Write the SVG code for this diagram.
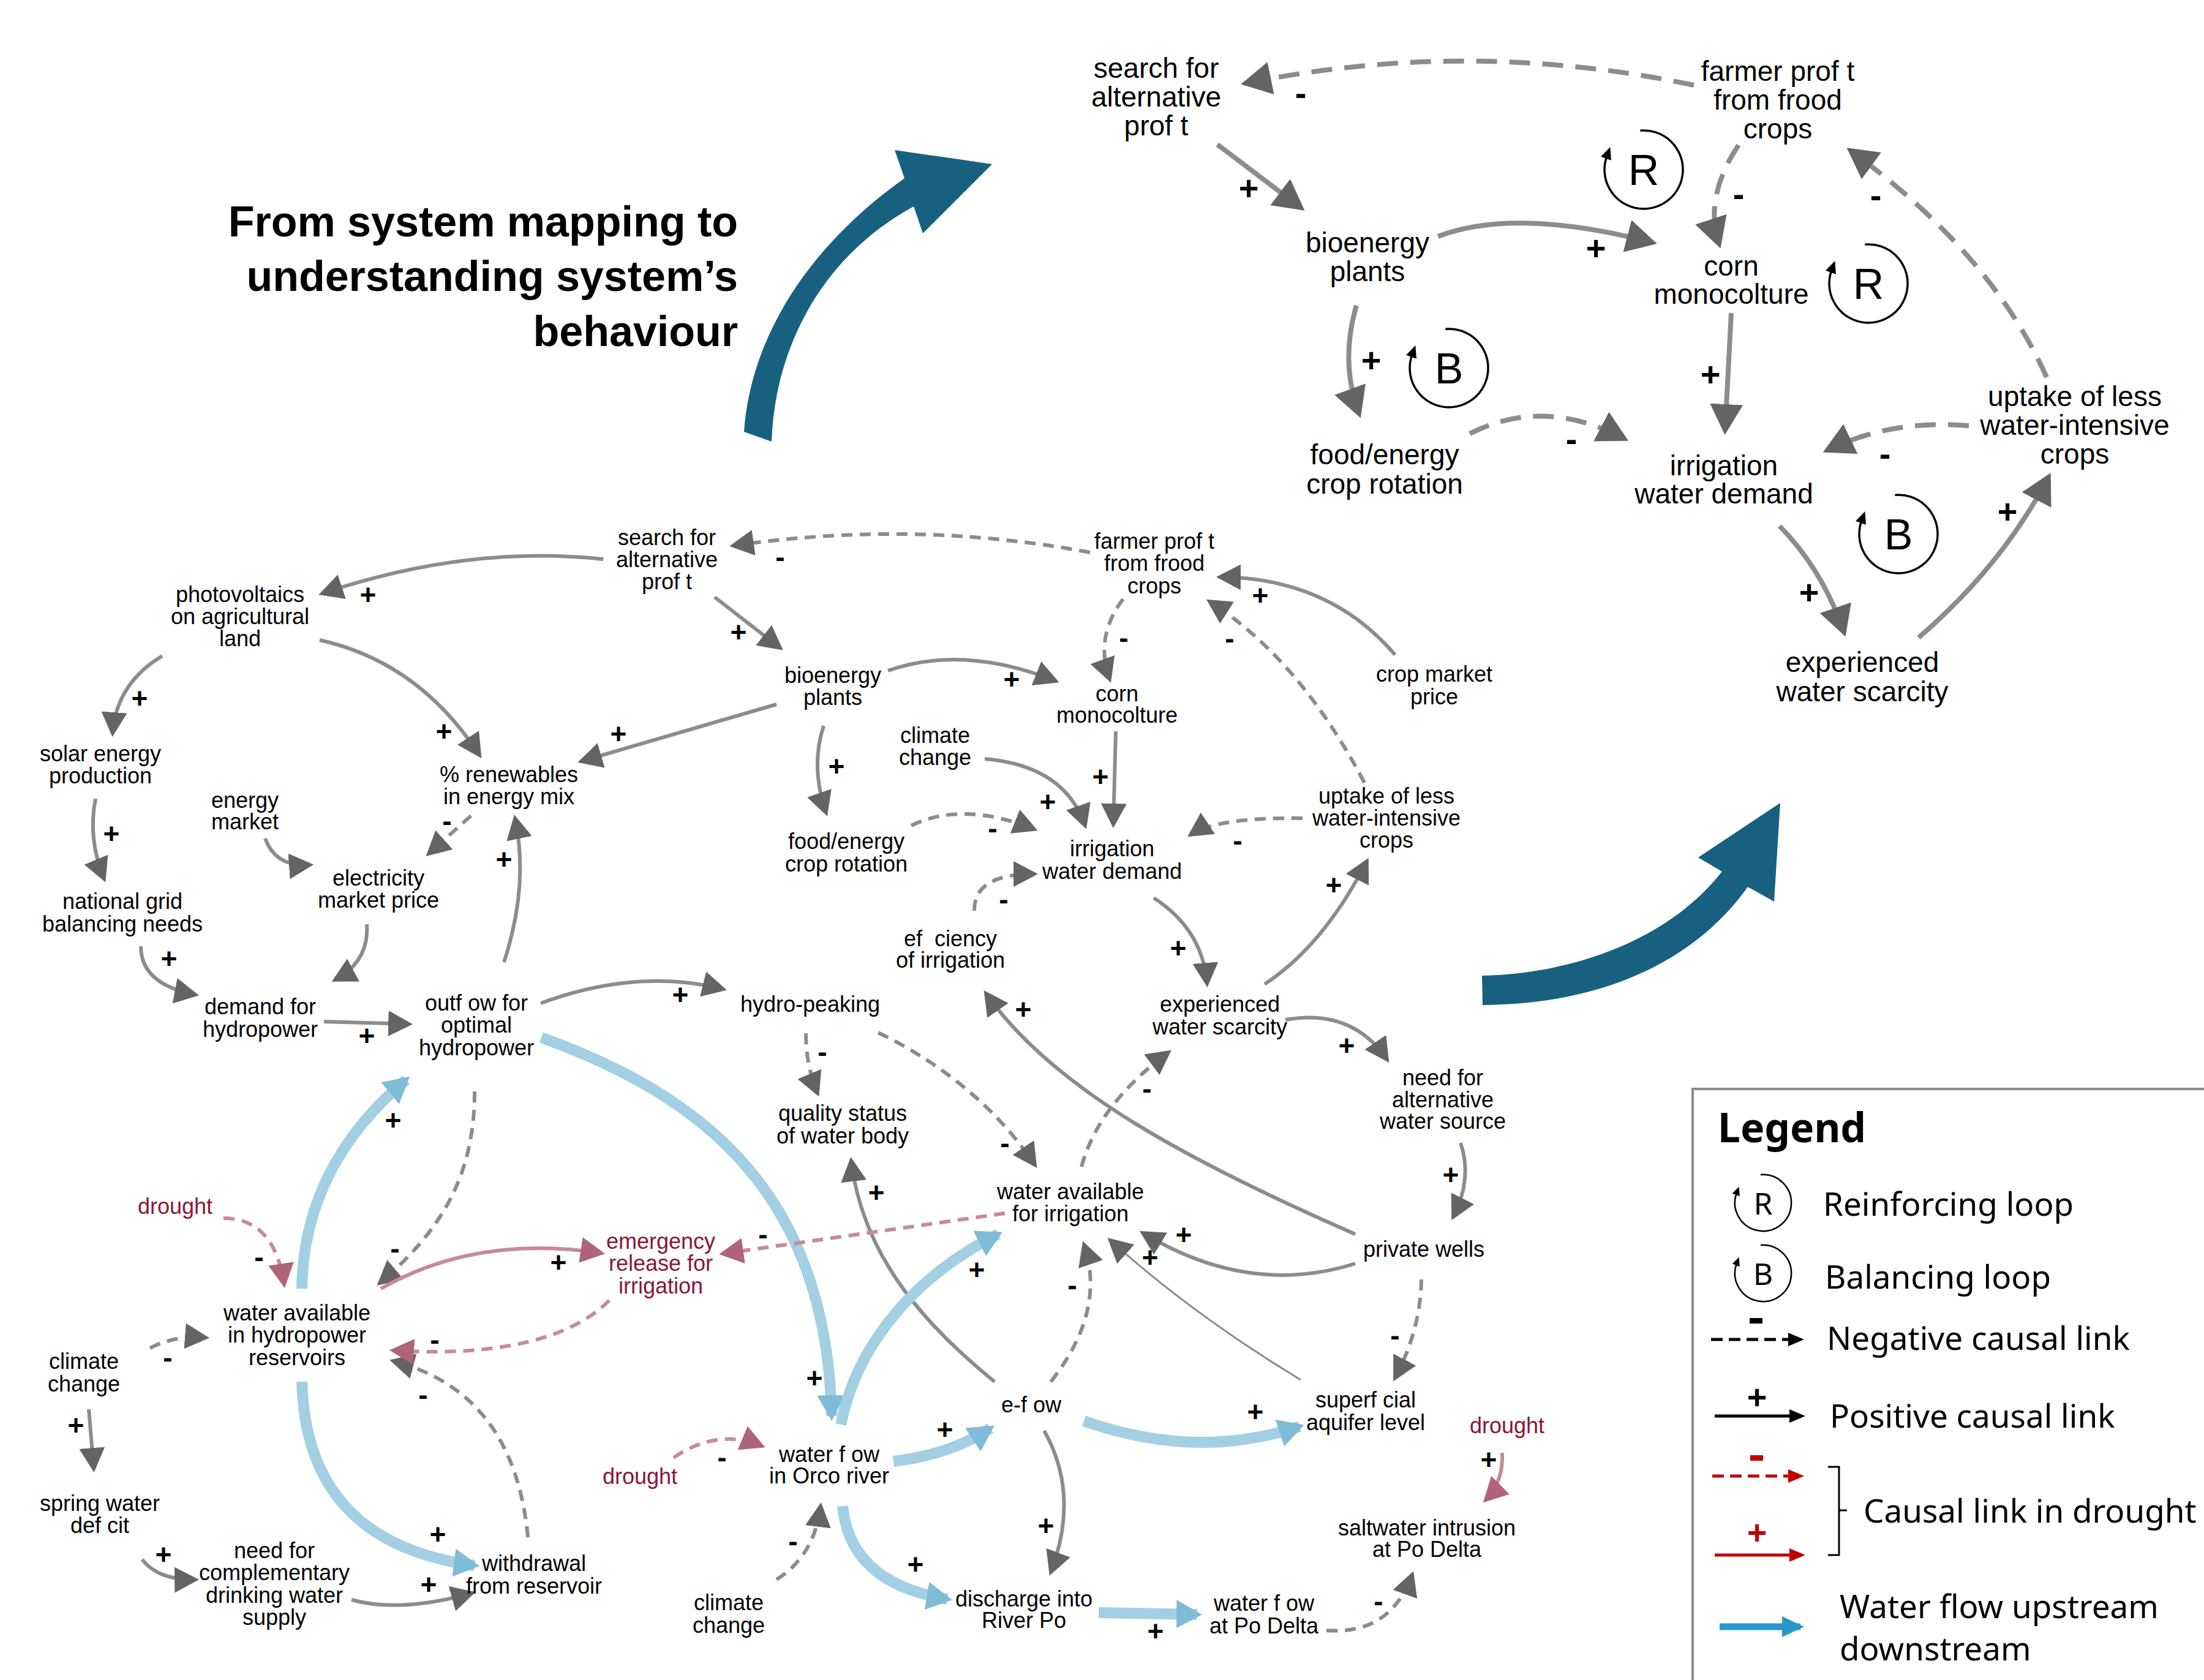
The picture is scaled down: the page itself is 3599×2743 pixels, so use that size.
<svg xmlns="http://www.w3.org/2000/svg" width="3599" height="2743" viewBox="0 0 3599 2743">
<style>
.n{font-family:"Liberation Sans",Arial,sans-serif;font-size:36px;fill:#000;text-anchor:middle}
.nb{font-size:46px}
.red{fill:#8a1538}
.l{font-family:"Liberation Sans",Arial,sans-serif;font-weight:bold;font-size:46px;text-anchor:middle;dominant-baseline:central;fill:#000}
.lb{font-size:56px}
.g{fill:none;stroke:#8c8c8c;stroke-width:6;marker-end:url(#aG)}
.gd{stroke-dasharray:18 12}
.thin{stroke-width:3}
.t{fill:none;stroke:#8c8c8c;stroke-width:8;marker-end:url(#aT)}
.td{stroke-dasharray:34 20}
.p{fill:none;stroke:#c68a9c;stroke-width:6;marker-end:url(#aP)}
.b{fill:none;stroke:#a3cfe3;stroke-width:18;marker-end:url(#aB)}
.big{fill:#18607f}
.lg{font-family:"Noto Sans","Open Sans",sans-serif;font-size:53px;fill:#000}
.loop{fill:none;stroke:#000;stroke-width:3.5;marker-end:url(#aK)}
.lt{font-family:"Liberation Sans",Arial,sans-serif;font-size:70px;text-anchor:middle;fill:#000}
</style>
<defs>
<marker id="aG" markerUnits="userSpaceOnUse" markerWidth="40" markerHeight="42" viewBox="0 0 40 42" refX="34" refY="21" orient="auto"><path d="M0,0 L40,21 L0,42 z" fill="#646464"/></marker>
<marker id="aT" markerUnits="userSpaceOnUse" markerWidth="50" markerHeight="54" viewBox="0 0 50 54" refX="42" refY="27" orient="auto"><path d="M0,0 L50,27 L0,54 z" fill="#646464"/></marker>
<marker id="aP" markerUnits="userSpaceOnUse" markerWidth="40" markerHeight="42" viewBox="0 0 40 42" refX="34" refY="21" orient="auto"><path d="M0,0 L40,21 L0,42 z" fill="#b0647a"/></marker>
<marker id="aB" markerUnits="userSpaceOnUse" markerWidth="42" markerHeight="46" viewBox="0 0 42 46" refX="34" refY="23" orient="auto"><path d="M0,0 L42,23 L0,46 z" fill="#80bbd8"/></marker>
<marker id="aK" markerUnits="userSpaceOnUse" markerWidth="20" markerHeight="18" viewBox="0 0 20 18" refX="4" refY="9" orient="auto"><path d="M0,0 L20,9 L0,18 z" fill="#000"/></marker>
<marker id="kB" markerUnits="userSpaceOnUse" markerWidth="26" markerHeight="22" viewBox="0 0 26 22" refX="20" refY="11" orient="auto"><path d="M0,0 L26,11 L0,22 z" fill="#000"/></marker>
<marker id="kR" markerUnits="userSpaceOnUse" markerWidth="26" markerHeight="22" viewBox="0 0 26 22" refX="20" refY="11" orient="auto"><path d="M0,0 L26,11 L0,22 z" fill="#c00000"/></marker>
<marker id="kW" markerUnits="userSpaceOnUse" markerWidth="36" markerHeight="34" viewBox="0 0 36 34" refX="30" refY="17" orient="auto"><path d="M0,0 L36,17 L0,34 z" fill="#2898cc"/></marker>
<g id="loopArc"><path class="loop" d="M-5.6,-63.8 A64,64 0 1 1 -60.1,-21.9"/></g>
</defs>
<rect width="3599" height="2743" fill="#fff"/>

<!-- Title and big arrows -->
<g id="title">
<text font-family="Liberation Sans,Arial,sans-serif" font-weight="bold" font-size="70" text-anchor="end" fill="#000"><tspan x="1205" y="386">From system mapping to</tspan><tspan x="1205" y="475">understanding system’s</tspan><tspan x="1205" y="565">behaviour</tspan></text>
</g>
<g id="big-arrows">
<path class="big" d="M1215,705 C1225,560 1310,410 1477,291 L1461,245 L1620,268 L1507,381 L1492,337 C1340,420 1265,570 1260,721 Z"/>
<path class="big" d="M2420,1593 C2560,1590 2720,1540 2812,1423 L2773,1400 L2907,1311 L2897,1472 L2854,1448 C2760,1580 2600,1640 2421,1641 Z"/>
</g>

<!-- Connectors -->
<g id="connectors">
<!-- top-right simplified loop diagram -->
<path class="t td" d="M2766,139 Q2398,62 2034,136"/>
<path class="t" d="M1988,236 L2124,339"/>
<path class="t" d="M2348,386 Q2475,338 2698,396"/>
<path class="t td" d="M2839,237 Q2782,322 2807,398"/>
<path class="t td" d="M3342,616 Q3252,414 3022,246"/>
<path class="t" d="M2215,499 Q2188,590 2219,675"/>
<path class="t td" d="M2400,708 Q2520,647 2652,716"/>
<path class="t" d="M2827,511 L2817,702"/>
<path class="t td" d="M3215,695 Q3090,684 2984,735"/>
<path class="t" d="M2906,859 Q2976,930 3011,1032"/>
<path class="t" d="M3133,1041 Q3270,923 3345,779"/>

<!-- main map: grey solid/dashed -->
<path class="g" d="M985,913 Q765,889 526,969"/>
<path class="g" d="M1167,975 L1274,1058"/>
<path class="g" d="M265,1071 Q190,1116 184,1197"/>
<path class="g" d="M522,1045 Q684,1081 783,1233"/>
<path class="g" d="M1268,1150 L949,1243"/>
<path class="g" d="M156,1304 Q143,1370 170,1435"/>
<path class="g" d="M433,1369 Q450,1416 506,1412"/>
<path class="g gd" d="M769,1332 L700,1394"/>
<path class="g" d="M230,1545 Q230,1607 319,1624"/>
<path class="g" d="M599,1509 Q603,1570 547,1600"/>
<path class="g" d="M529,1668 L668,1672"/>
<path class="g" d="M823,1571 Q864,1446 841,1336"/>
<path class="g" d="M883,1638 Q1040,1580 1181,1615"/>
<path class="g gd" d="M1780,902 Q1492,848 1197,891"/>
<path class="g" d="M1450,1095 Q1573,1052 1724,1112"/>
<path class="g gd" d="M1834,978 Q1787,1040 1812,1109"/>
<path class="g" d="M2278,1069 Q2171,944 1992,942"/>
<path class="g gd" d="M2228,1278 Q2122,1076 1975,982"/>
<path class="g" d="M1345,1185 Q1323,1252 1349,1327"/>
<path class="g" d="M1608,1239 Q1738,1250 1772,1348"/>
<path class="g" d="M1822,1194 L1818,1346"/>
<path class="g gd" d="M1488,1348 Q1572,1307 1689,1354"/>
<path class="g gd" d="M2127,1336 Q1988,1334 1944,1363"/>
<path class="g gd" d="M1591,1487 Q1590,1427 1689,1427"/>
<path class="g" d="M1884,1466 Q1964,1518 1971,1606"/>
<path class="g" d="M2065,1607 Q2162,1543 2232,1406"/>
<path class="g" d="M2099,1665 Q2208,1646 2265,1730"/>
<path class="g gd" d="M1766,1905 Q1793,1804 1908,1718"/>
<path class="g gd" d="M1316,1687 Q1316,1740 1335,1785"/>
<path class="g gd" d="M1434,1686 Q1598,1766 1690,1902"/>
<path class="g" d="M1624,2256 C1520,2170 1410,2060 1390,1895"/>
<path class="g gd" d="M1716,2256 Q1807,2140 1770,2032"/>
<path class="g" d="M2213,2063 Q2040,2118 1866,2013"/>
<path class="g thin" d="M2124,2253 Q1946,2145 1813,2025"/>
<path class="g" d="M2213,2015 C1950,1900 1720,1780 1610,1622"/>
<path class="g" d="M2385,1866 Q2405,1924 2373,1987"/>
<path class="g gd" d="M2321,2089 Q2320,2170 2278,2250"/>
<path class="g" d="M1705,2336 Q1764,2440 1716,2567"/>
<path class="g gd" d="M2166,2662 Q2270,2670 2306,2571"/>
<path class="g gd" d="M1268,2579 Q1330,2540 1340,2459"/>
<path class="g gd" d="M775,1782 C775,1920 720,2010 620,2095"/>
<path class="g gd" d="M245,2201 Q285,2180 336,2184"/>
<path class="g" d="M145,2301 L153,2398"/>
<path class="g" d="M232,2546 Q258,2580 319,2579"/>
<path class="g" d="M574,2612 Q654,2634 771,2601"/>
<path class="g gd" d="M862,2510 Q840,2274 642,2222"/>

<!-- water flows (blue) -->
<path class="b" d="M884,1694 C1150,1790 1350,1950 1358,2312"/>
<path class="b" d="M493,2104 C495,1960 560,1850 663,1763"/>
<path class="b" d="M493,2256 C497,2420 580,2530 775,2556"/>
<path class="b" d="M1373,2326 C1400,2190 1500,2080 1630,2015"/>
<path class="b" d="M1459,2386 Q1552,2375 1617,2332"/>
<path class="b" d="M1770,2320 Q1954,2385 2122,2329"/>
<path class="b" d="M1376,2459 Q1388,2585 1547,2611"/>
<path class="b" d="M1794,2633 L1955,2636"/>

<!-- drought links (pink) -->
<path class="p gd" d="M365,1989 Q448,1989 464,2097"/>
<path class="p" d="M622,2104 Q778,2015 982,2046"/>
<path class="p gd" d="M995,2123 C930,2190 800,2215 642,2205"/>
<path class="p gd" d="M1641,1981 L1180,2047"/>
<path class="p gd" d="M1100,2380 Q1172,2331 1244,2361"/>
<path class="p" d="M2453,2372 Q2455,2420 2426,2449"/>

<!-- polarity labels -->
<g id="link-labels">
<text class="l lb" x="2124" y="151">-</text>
<text class="l lb" x="2039" y="306">+</text>
<text class="l lb" x="2606" y="404">+</text>
<text class="l lb" x="2839" y="316">-</text>
<text class="l lb" x="3063" y="318">-</text>
<text class="l lb" x="2239" y="587">+</text>
<text class="l lb" x="2566" y="716">-</text>
<text class="l lb" x="2793" y="610">+</text>
<text class="l lb" x="3078" y="740">-</text>
<text class="l lb" x="2954" y="966">+</text>
<text class="l lb" x="3278" y="834">+</text>

<text class="l" x="601" y="971">+</text>
<text class="l" x="1206" y="1032">+</text>
<text class="l" x="1274" y="909">-</text>
<text class="l" x="228" y="1140">+</text>
<text class="l" x="725" y="1194">+</text>
<text class="l" x="1010" y="1198">+</text>
<text class="l" x="182" y="1361">+</text>
<text class="l" x="730" y="1340">-</text>
<text class="l" x="276" y="1565">+</text>
<text class="l" x="599" y="1691">+</text>
<text class="l" x="823" y="1403">+</text>
<text class="l" x="1111" y="1624">+</text>
<text class="l" x="1652" y="1109">+</text>
<text class="l" x="1835" y="1041">-</text>
<text class="l" x="2058" y="972">+</text>
<text class="l" x="2008" y="1042">-</text>
<text class="l" x="1366" y="1251">+</text>
<text class="l" x="1711" y="1309">+</text>
<text class="l" x="1797" y="1268">+</text>
<text class="l" x="1621" y="1352">-</text>
<text class="l" x="2021" y="1372">-</text>
<text class="l" x="1639" y="1468">-</text>
<text class="l" x="1924" y="1548">+</text>
<text class="l" x="2178" y="1445">+</text>
<text class="l" x="2199" y="1707">+</text>
<text class="l" x="1873" y="1777">-</text>
<text class="l" x="1671" y="1648">+</text>
<text class="l" x="1343" y="1717">-</text>
<text class="l" x="1641" y="1866">-</text>
<text class="l" x="1431" y="1947">+</text>
<text class="l" x="1595" y="2073">+</text>
<text class="l" x="1246" y="2015">-</text>
<text class="l" x="1751" y="2098">-</text>
<text class="l" x="1933" y="2016">+</text>
<text class="l" x="1878" y="2053">+</text>
<text class="l" x="2369" y="1918">+</text>
<text class="l" x="2278" y="2180">-</text>
<text class="l" x="1543" y="2334">+</text>
<text class="l" x="2050" y="2305">+</text>
<text class="l" x="1708" y="2491">+</text>
<text class="l" x="1495" y="2554">+</text>
<text class="l" x="1887" y="2663">+</text>
<text class="l" x="2251" y="2614">-</text>
<text class="l" x="2431" y="2383">+</text>
<text class="l" x="1295" y="2516">-</text>
<text class="l" x="1179" y="2379">-</text>
<text class="l" x="1330" y="2250">+</text>
<text class="l" x="642" y="1829">+</text>
<text class="l" x="645" y="2038">-</text>
<text class="l" x="423" y="2052">-</text>
<text class="l" x="912" y="2061">+</text>
<text class="l" x="710" y="2187">-</text>
<text class="l" x="274" y="2216">-</text>
<text class="l" x="124" y="2327">+</text>
<text class="l" x="267" y="2538">+</text>
<text class="l" x="700" y="2587">+</text>
<text class="l" x="715" y="2505">+</text>
<text class="l" x="691" y="2277">-</text>
</g>
</g>

<!-- Loop markers (top-right) -->
<g id="loop-R1"><use href="#loopArc" transform="translate(2684,277)"/><text class="lt" x="2684" y="302">R</text></g>
<g id="loop-R2"><use href="#loopArc" transform="translate(3051,463)"/><text class="lt" x="3051" y="488">R</text></g>
<g id="loop-B1"><use href="#loopArc" transform="translate(2366,601)"/><text class="lt" x="2366" y="626">B</text></g>
<g id="loop-B2"><use href="#loopArc" transform="translate(3100,872)"/><text class="lt" x="3100" y="897">B</text></g>

<!-- Top-right nodes -->
<g id="tr-search"><text class="n nb"><tspan x="1888" y="127">search for</tspan><tspan x="1888" dy="47">alternative</tspan><tspan x="1888" dy="47">prof t</tspan></text></g>
<g id="tr-farmer"><text class="n nb"><tspan x="2903" y="132">farmer prof t</tspan><tspan x="2903" dy="47">from frood</tspan><tspan x="2903" dy="47">crops</tspan></text></g>
<g id="tr-bioenergy"><text class="n nb"><tspan x="2233" y="412">bioenergy</tspan><tspan x="2233" dy="47">plants</tspan></text></g>
<g id="tr-corn"><text class="n nb"><tspan x="2827" y="450">corn</tspan><tspan x="2827" dy="46">monocolture</tspan></text></g>
<g id="tr-food"><text class="n nb"><tspan x="2261" y="758">food/energy</tspan><tspan x="2261" dy="48">crop rotation</tspan></text></g>
<g id="tr-irrigation"><text class="n nb"><tspan x="2815" y="776">irrigation</tspan><tspan x="2815" dy="46">water demand</tspan></text></g>
<g id="tr-uptake"><text class="n nb"><tspan x="3388" y="663">uptake of less</tspan><tspan x="3388" dy="47">water-intensive</tspan><tspan x="3388" dy="47">crops</tspan></text></g>
<g id="tr-experienced"><text class="n nb"><tspan x="3041" y="1097">experienced</tspan><tspan x="3041" dy="48">water scarcity</tspan></text></g>

<!-- Main map nodes -->
<g id="search"><text class="n"><tspan x="1089" y="890">search for</tspan><tspan x="1089" dy="36">alternative</tspan><tspan x="1089" dy="36">prof t</tspan></text></g>
<g id="photovoltaics"><text class="n"><tspan x="392" y="983">photovoltaics</tspan><tspan x="392" dy="36">on agricultural</tspan><tspan x="392" dy="36">land</tspan></text></g>
<g id="solar"><text class="n"><tspan x="164" y="1243">solar energy</tspan><tspan x="164" dy="36">production</tspan></text></g>
<g id="energy-market"><text class="n"><tspan x="400" y="1319">energy</tspan><tspan x="400" dy="35">market</tspan></text></g>
<g id="renewables"><text class="n"><tspan x="831" y="1277">% renewables</tspan><tspan x="831" dy="36">in energy mix</tspan></text></g>
<g id="electricity"><text class="n"><tspan x="618" y="1446">electricity</tspan><tspan x="618" dy="36">market price</tspan></text></g>
<g id="national-grid"><text class="n"><tspan x="200" y="1484">national grid</tspan><tspan x="200" dy="37">balancing needs</tspan></text></g>
<g id="demand-hydro"><text class="n"><tspan x="425" y="1656">demand for</tspan><tspan x="425" dy="37">hydropower</tspan></text></g>
<g id="outflow"><text class="n"><tspan x="778" y="1650">outf ow for</tspan><tspan x="778" dy="36">optimal</tspan><tspan x="778" dy="37">hydropower</tspan></text></g>
<g id="bioenergy"><text class="n"><tspan x="1360" y="1115">bioenergy</tspan><tspan x="1360" dy="36">plants</tspan></text></g>
<g id="farmer"><text class="n"><tspan x="1885" y="896">farmer prof t</tspan><tspan x="1885" dy="36">from frood</tspan><tspan x="1885" dy="37">crops</tspan></text></g>
<g id="corn"><text class="n"><tspan x="1824" y="1145">corn</tspan><tspan x="1824" dy="35">monocolture</tspan></text></g>
<g id="climate1"><text class="n"><tspan x="1527" y="1213">climate</tspan><tspan x="1527" dy="36">change</tspan></text></g>
<g id="crop-market"><text class="n"><tspan x="2342" y="1113">crop market</tspan><tspan x="2342" dy="37">price</tspan></text></g>
<g id="food-energy"><text class="n"><tspan x="1382" y="1386">food/energy</tspan><tspan x="1382" dy="37">crop rotation</tspan></text></g>
<g id="irrigation-demand"><text class="n"><tspan x="1816" y="1398">irrigation</tspan><tspan x="1816" dy="37">water demand</tspan></text></g>
<g id="uptake"><text class="n"><tspan x="2264" y="1312">uptake of less</tspan><tspan x="2264" dy="36">water-intensive</tspan><tspan x="2264" dy="36">crops</tspan></text></g>
<g id="efficiency"><text class="n" xml:space="preserve"><tspan x="1552" y="1545">ef  ciency</tspan><tspan x="1552" dy="35">of irrigation</tspan></text></g>
<g id="hydropeaking"><text class="n" x="1323" y="1652">hydro-peaking</text></g>
<g id="experienced"><text class="n"><tspan x="1992" y="1652">experienced</tspan><tspan x="1992" dy="37">water scarcity</tspan></text></g>
<g id="need-alt"><text class="n"><tspan x="2356" y="1772">need for</tspan><tspan x="2356" dy="36">alternative</tspan><tspan x="2356" dy="35">water source</tspan></text></g>
<g id="private-wells"><text class="n" x="2325" y="2052">private wells</text></g>
<g id="quality"><text class="n"><tspan x="1376" y="1830">quality status</tspan><tspan x="1376" dy="37">of water body</tspan></text></g>
<g id="water-irrigation"><text class="n"><tspan x="1748" y="1958">water available</tspan><tspan x="1748" dy="36">for irrigation</tspan></text></g>
<g id="drought1"><text class="n red" x="286" y="1982">drought</text></g>
<g id="water-hydro"><text class="n"><tspan x="485" y="2156">water available</tspan><tspan x="485" dy="36">in hydropower</tspan><tspan x="485" dy="37">reservoirs</tspan></text></g>
<g id="emergency"><text class="n red"><tspan x="1079" y="2039">emergency</tspan><tspan x="1079" dy="36">release for</tspan><tspan x="1079" dy="37">irrigation</tspan></text></g>
<g id="climate2"><text class="n"><tspan x="137" y="2235">climate</tspan><tspan x="137" dy="37">change</tspan></text></g>
<g id="spring"><text class="n"><tspan x="163" y="2467">spring water</tspan><tspan x="163" dy="36">def cit</tspan></text></g>
<g id="need-drinking"><text class="n"><tspan x="448" y="2544">need for</tspan><tspan x="448" dy="36">complementary</tspan><tspan x="448" dy="37">drinking water</tspan><tspan x="448" dy="36">supply</tspan></text></g>
<g id="withdrawal"><text class="n"><tspan x="872" y="2565">withdrawal</tspan><tspan x="872" dy="37">from reservoir</tspan></text></g>
<g id="drought2"><text class="n red" x="1045" y="2423">drought</text></g>
<g id="climate3"><text class="n"><tspan x="1190" y="2629">climate</tspan><tspan x="1190" dy="37">change</tspan></text></g>
<g id="eflow"><text class="n" x="1684" y="2306">e-f ow</text></g>
<g id="superficial"><text class="n"><tspan x="2230" y="2298">superf cial</tspan><tspan x="2230" dy="37">aquifer level</tspan></text></g>
<g id="orco"><text class="n"><tspan x="1354" y="2387">water f ow</tspan><tspan x="1354" dy="35">in Orco river</tspan></text></g>
<g id="drought3"><text class="n red" x="2461" y="2340">drought</text></g>
<g id="saltwater"><text class="n"><tspan x="2330" y="2507">saltwater intrusion</tspan><tspan x="2330" dy="35">at Po Delta</tspan></text></g>
<g id="discharge"><text class="n"><tspan x="1672" y="2623">discharge into</tspan><tspan x="1672" dy="35">River Po</tspan></text></g>
<g id="po-delta"><text class="n"><tspan x="2064" y="2630">water f ow</tspan><tspan x="2064" dy="37">at Po Delta</tspan></text></g>

<!-- Legend -->
<g id="legend">
<path d="M3599,1778 L2764,1778 L2764,2743" fill="none" stroke="#8c8c8c" stroke-width="4"/>
<text x="2805" y="1865" font-family="Noto Sans,Open Sans,sans-serif" font-weight="bold" font-size="66" fill="#000">Legend</text>
<use href="#loopArc" transform="translate(2879,1964) scale(0.72)"/>
<text x="2879" y="1983" font-family="Noto Sans,Open Sans,sans-serif" font-size="50" text-anchor="middle">R</text>
<text class="lg" x="2977" y="1985">Reinforcing loop</text>
<use href="#loopArc" transform="translate(2879,2079) scale(0.72)"/>
<text x="2879" y="2098" font-family="Noto Sans,Open Sans,sans-serif" font-size="50" text-anchor="middle">B</text>
<text class="lg" x="2980" y="2104">Balancing loop</text>
<path d="M2794,2187 L2940,2187" fill="none" stroke="#000" stroke-width="5" stroke-dasharray="19 10" marker-end="url(#kB)"/>
<rect x="2857" y="2152" width="21" height="9" fill="#000"/>
<text class="lg" x="2983" y="2204">Negative causal link</text>
<path d="M2800,2312 L2942,2312" fill="none" stroke="#000" stroke-width="5" marker-end="url(#kB)"/>
<text class="l lb" x="2869" y="2280">+</text>
<text class="lg" x="2988" y="2331">Positive causal link</text>
<path d="M2796,2410 L2940,2410" fill="none" stroke="#c00000" stroke-width="5" stroke-dasharray="19 10" marker-end="url(#kR)"/>
<rect x="2858" y="2376" width="21" height="9" fill="#c00000"/>
<path d="M2800,2539 L2942,2539" fill="none" stroke="#c00000" stroke-width="5" marker-end="url(#kR)"/>
<text class="l lb" x="2869" y="2501" style="fill:#c00000">+</text>
<path d="M2985,2395 L3003,2395 L3003,2539 L2985,2539 M3003,2466 L3016,2466" fill="none" stroke="#000" stroke-width="3"/>
<text class="lg" x="3043" y="2486">Causal link in drought</text>
<path d="M2808,2656 L2940,2656" fill="none" stroke="#2898cc" stroke-width="11" marker-end="url(#kW)"/>
<text class="lg"><tspan x="3004" y="2642">Water flow upstream</tspan><tspan x="3004" y="2711">downstream</tspan></text>
</g>
</svg>
